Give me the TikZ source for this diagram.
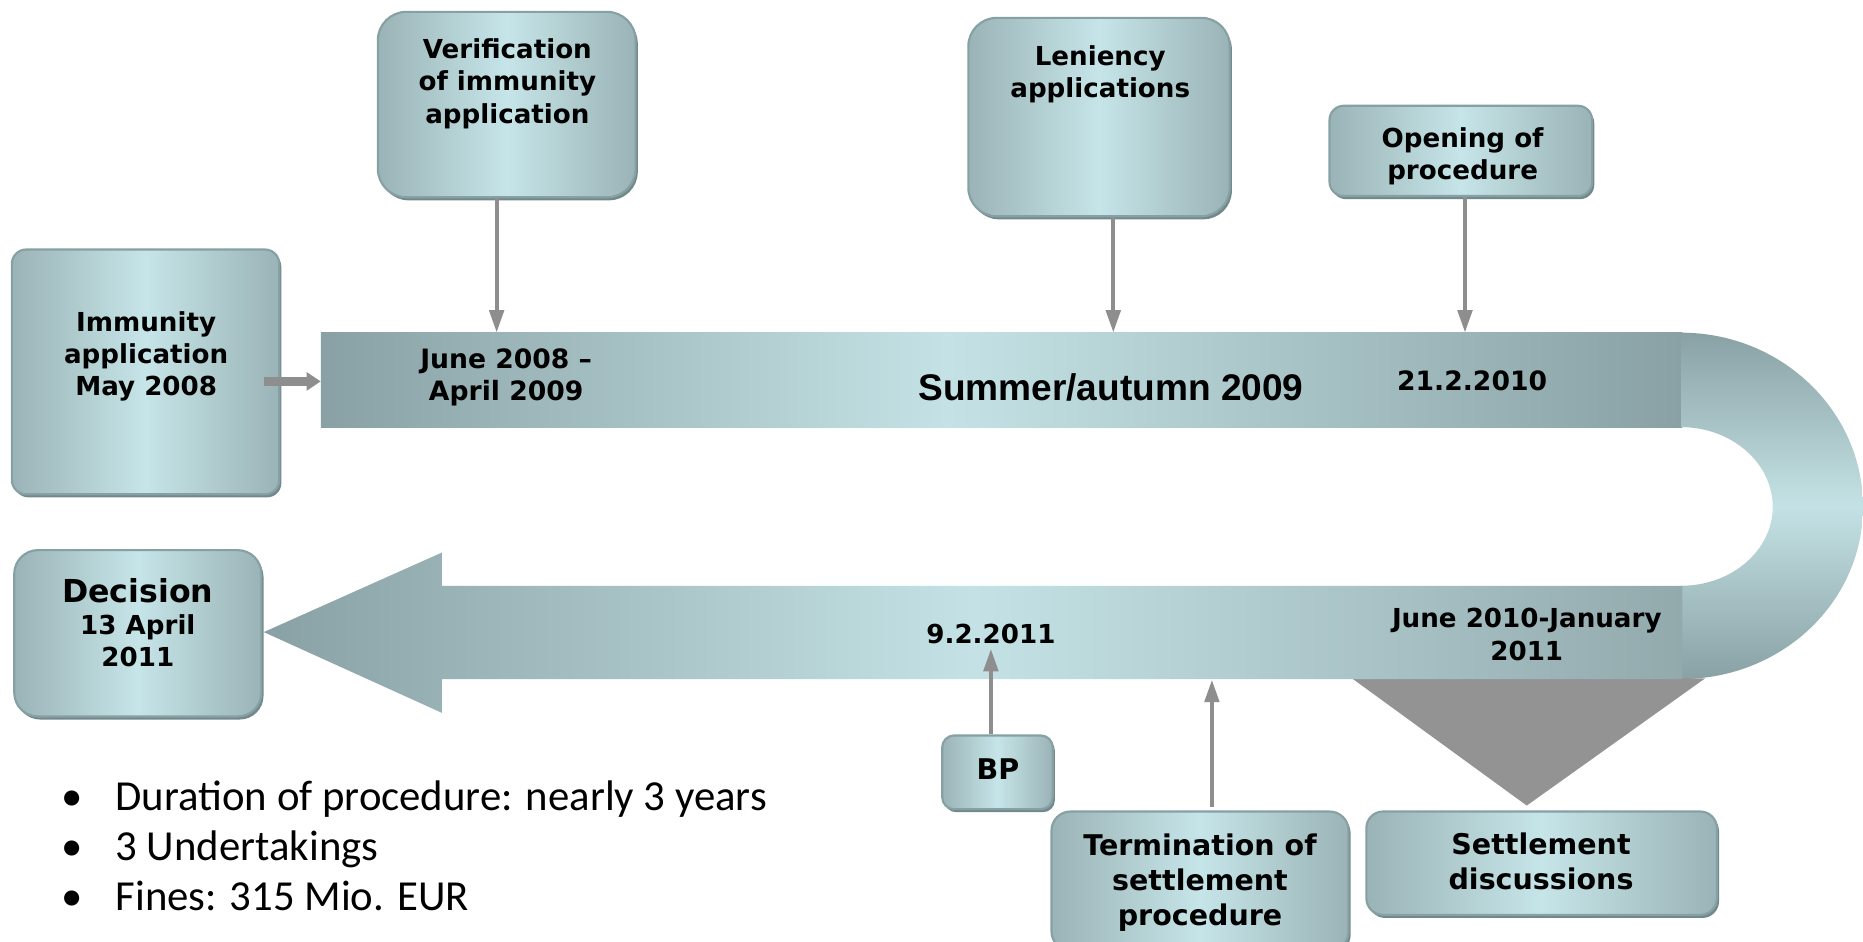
\documentclass[tikz,border=0pt]{standalone}
\usepackage{fontspec}
\newfontfamily\vfont{DejaVu Sans}
\newfontfamily\afont{Liberation Sans}
\newfontfamily\cfont{Carlito}
\usetikzlibrary{arrows.meta,shadows}
\definecolor{boxL}{HTML}{C6E5E8}
\definecolor{boxD}{HTML}{9AB3B6}
\definecolor{boxB}{HTML}{86A0A3}
\definecolor{boxS}{HTML}{72898C}
\definecolor{bandD}{HTML}{89A1A4}
\definecolor{bandDb}{HTML}{93AAAD}
\definecolor{bandL}{HTML}{C4E2E5}
\definecolor{arrG}{HTML}{8E8E8E}
\definecolor{triG}{HTML}{939393}
\pgfdeclarehorizontalshading{topbandshade}{100bp}{color(0bp)=(bandD); color(25bp)=(bandD); color(48bp)=(bandL); color(75bp)=(bandD); color(100bp)=(bandD)}
\pgfdeclarehorizontalshading{botbandshade}{100bp}{color(0bp)=(bandD); color(25bp)=(bandD); color(50bp)=(bandL); color(75bp)=(bandDb); color(100bp)=(bandDb)}
\begin{document}
\begin{tikzpicture}[x=0.5pt,y=-0.5pt,
  box/.style={draw=boxB, line width=0.9pt, left color=boxD, right color=boxD, middle color=boxL,
    general shadow={fill=boxS, shadow xshift=0.9pt, shadow yshift=-1.3pt}, inner sep=0pt},
  txt/.style={font=\vfont\bfseries\fontsize{11}{13.5}\selectfont, align=center, inner sep=0pt},
  btxt/.style={font=\vfont\bfseries\fontsize{12}{14.75}\selectfont, align=center, inner sep=0pt},
  arr/.style={draw=arrG, line width=1.8pt, -{Triangle[length=9.5pt,width=6pt]}},
  fatarr/.style={draw=arrG, line width=3.5pt, -{Triangle[length=6pt,width=7.5pt]}}]
\clip (0,0) rectangle (1568,792);
\fill[white] (0,0) rectangle (1568,792);

% bands
\path[shading=topbandshade] (270,280) rectangle (1416,359.5);
\path[top color=bandD, bottom color=bandD, middle color=bandL]
  (1415,280) .. controls (1499.5,280) and (1568,346.1) .. (1568,426.5)
  .. controls (1568,506.9) and (1499.5,571.5) .. (1415,571.5)
  -- (1415,493) .. controls (1457.5,493) and (1492,463.2) .. (1492,426.5)
  .. controls (1492,389.8) and (1457.5,359.5) .. (1415,359.5) -- cycle;
\fill[triG] (1138,571) -- (1435,571) -- (1285,678) -- cycle;
\path[shading=botbandshade] (222,532) -- (372,465) -- (372,493) -- (1416,493)
  -- (1416,571.5) -- (372,571.5) -- (372,600) -- cycle;

% anchor points on the bands
\coordinate (t0) at (270,321);
\coordinate (t1) at (418,280);
\coordinate (t2) at (937,280);
\coordinate (t3) at (1233,280);
\coordinate (b1) at (834,546);
\coordinate (b2) at (1020,572);

% boxes
\node[box, rounded corners=12pt, minimum width=108.5pt, minimum height=78pt] (verif) at (426.5,88) {};
\node[box, rounded corners=6pt, minimum width=112.5pt, minimum height=103pt] (immun) at (122.5,313) {};
\node[box, rounded corners=12pt, minimum width=110pt, minimum height=83.5pt] (lenien) at (925,98.5) {};
\node[box, rounded corners=6pt, minimum width=110.5pt, minimum height=38pt] (opening) at (1229.5,127) {};
\node[box, rounded corners=10pt, minimum width=104pt, minimum height=70pt] (decision) at (116,533) {};
\node[box, rounded corners=5pt, minimum width=46.5pt, minimum height=31pt] (bp) at (839.5,650) {};
\node[box, rounded corners=8pt, minimum width=125pt, minimum height=58.5pt] (termin) at (1010,741.5) {};
\node[box, rounded corners=7pt, minimum width=147.5pt, minimum height=43.5pt] (settle) at (1297.5,726.5) {};

% box texts
\node[txt] (verifT) at (427,70.5) {Verification\\of immunity\\application};
\node[txt] (immunT) at (123,300) {Immunity\\application\\May 2008};
\node[txt] (lenienT) at (926,62.5) {Leniency\\applications};
\node[txt] (openingT) at (1231,131.5) {Opening of\\procedure};
\node[font=\vfont\bfseries\fontsize{13.3}{16}\selectfont, inner sep=0pt] (decisionT) at (116,497) {Decision};
\node[txt] (decisionD) at (116,539) {13 April\\2011};
\node[btxt] (bpT) at (840,647) {BP};
\node[btxt] (terminT) at (1010,743) {Termination of\\settlement\\procedure};
\node[btxt] (settleT) at (1297,725) {Settlement\\discussions};

% band labels
\node[font=\vfont\bfseries\fontsize{11.2}{13.5}\selectfont, align=center, inner sep=0pt] (l1) at (426,317.5) {June 2008 –\\April 2009};
\node[font=\afont\bfseries\fontsize{15.6}{18}\selectfont, inner sep=0pt] (l2) at (935,326) {Summer/autumn 2009};
\node[font=\vfont\bfseries\fontsize{11.2}{13.5}\selectfont, inner sep=0pt] (l3) at (1239,320.5) {21.2.2010};
\node[txt] (l4) at (834,533.5) {9.2.2011};
\node[txt] (l5) at (1285,534) {June 2010-January\\2011};

% connectors
\draw[arr] (verif.south -| t1) -- (t1);
\draw[arr] (lenien.south -| t2) -- (t2);
\draw[arr] (opening.south -| t3) -- (t3);
\draw[fatarr] ([xshift=-7pt]immun.east |- t0) -- (t0);
\draw[arr] (bp.north -| b1) -- (b1);
\draw[arr] ([yshift=1.5pt]termin.north -| b2) -- (b2);

% facts
\node[anchor=west, inner sep=0pt, font=\cfont\fontsize{18}{21}\selectfont] (facts) at (51,715.5)
  {\begin{tabular}{@{}l@{\hspace{14pt}}l@{}}•&Duration of procedure: nearly 3 years\\•&3 Undertakings\\•&Fines: 315 Mio. EUR\end{tabular}};
\end{tikzpicture}
\end{document}
